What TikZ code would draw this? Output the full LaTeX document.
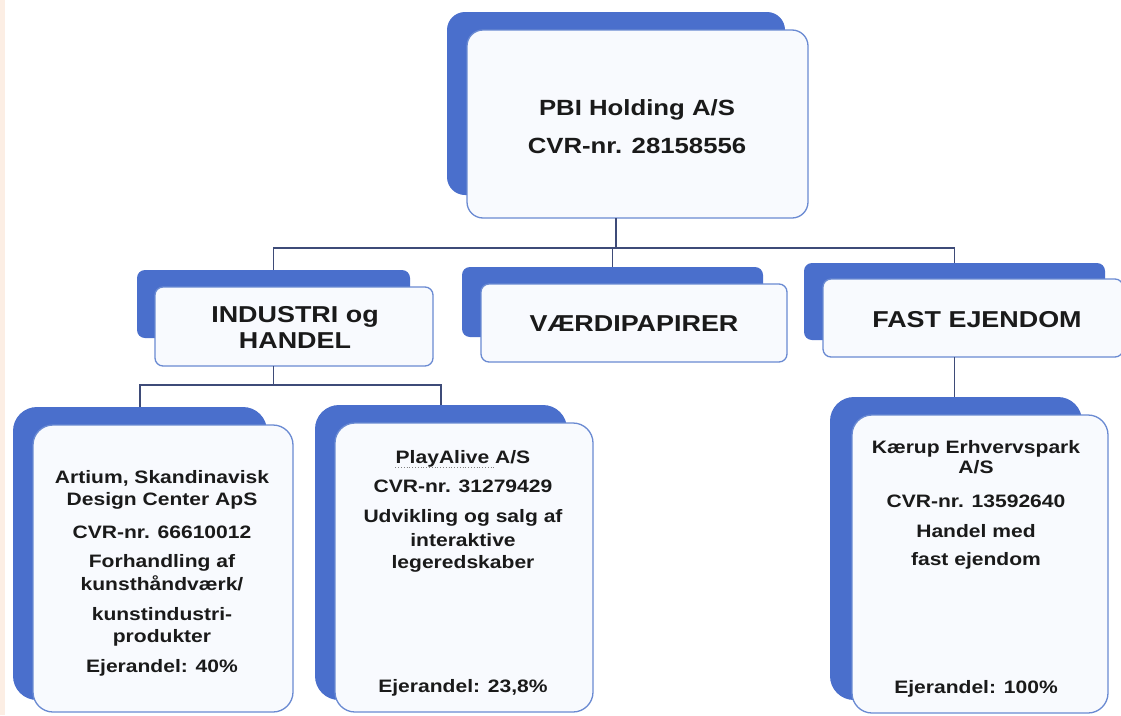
\documentclass[tikz,border=0pt]{standalone}
\usepackage{fontspec}
\setmainfont{Liberation Sans}[FakeStretch=1.17]
\definecolor{backblue}{HTML}{4A6FCC}
\definecolor{frontline}{HTML}{6A8AD2}
\definecolor{frontfill}{HTML}{F8FAFE}
\definecolor{connc}{HTML}{3E4B78}
\definecolor{txt}{HTML}{1A1A1A}
\definecolor{peach}{HTML}{FCEEE4}
\begin{document}
\begin{tikzpicture}[x=1pt,y=-1pt,
  backbox/.style={rectangle, fill=backblue, draw=none, inner sep=0pt, outer sep=0pt},
  frontbox/.style={rectangle, fill=frontfill, draw=frontline, line width=1.3pt, inner sep=0pt, outer sep=0pt},
  conn/.style={draw=connc, line width=1.3pt},
  bigtxt/.style={inner sep=0pt, anchor=base, text=txt, font=\bfseries\fontsize{22}{26}\selectfont},
  midtxt/.style={inner sep=0pt, anchor=base, text=txt, font=\bfseries\fontsize{23}{26}\selectfont},
  smalltxt/.style={inner sep=0pt, anchor=base, text=txt, font=\bfseries\fontsize{18}{22}\selectfont},
]
\useasboundingbox (0,0) rectangle (1121,715);
\fill[white] (0,0) rectangle (1121,715);
\fill[peach] (0,0) rectangle (5,715);

% top
\node[backbox, rounded corners=18pt, minimum width=338pt, minimum height=183pt] (topback) at (616,103.5) {};
\node[frontbox, rounded corners=16pt, minimum width=341pt, minimum height=188pt] (top) at (637.5,124) {};
% second level
\node[backbox, rounded corners=8pt, minimum width=273pt, minimum height=68pt] (indback) at (273.5,304) {};
\node[frontbox, rounded corners=8pt, minimum width=278pt, minimum height=79pt] (ind) at (294,326.5) {};
\node[backbox, rounded corners=8pt, minimum width=301pt, minimum height=70pt] (vaerback) at (612.5,302) {};
\node[frontbox, rounded corners=8pt, minimum width=306pt, minimum height=78pt] (vaer) at (634,323) {};
\node[backbox, rounded corners=8pt, minimum width=301pt, minimum height=77pt] (fastback) at (954.5,301.5) {};
\node[frontbox, rounded corners=8pt, minimum width=300pt, minimum height=78pt] (fast) at (973,318) {};
% third level
\node[backbox, rounded corners=24pt, minimum width=254pt, minimum height=293pt] (artback) at (140,553.5) {};
\node[frontbox, rounded corners=20pt, minimum width=260pt, minimum height=287pt] (art) at (163,568.5) {};
\node[backbox, rounded corners=24pt, minimum width=252pt, minimum height=295pt] (playback) at (441,552.5) {};
\node[frontbox, rounded corners=20pt, minimum width=258pt, minimum height=289pt] (play) at (464,567.5) {};
\node[backbox, rounded corners=24pt, minimum width=252pt, minimum height=303pt] (kaerback) at (956,548.5) {};
\node[frontbox, rounded corners=20pt, minimum width=256pt, minimum height=298pt] (kaer) at (980,564) {};

% connectors
\draw[conn] (topback |- top.south) -- ++(0,30) coordinate (j1);
\draw[conn] (indback.north) |- (j1) -| (fastback.north);
\draw[conn] (vaerback.north) -- (vaerback.north |- j1);
\draw[conn] (indback |- ind.south) -- ++(0,19) coordinate (j2);
\draw[conn] (artback.north) |- (j2) -| (playback.north);
\draw[conn] (fastback |- fast.south) -- (fastback |- kaerback.north);

% texts
\node[bigtxt] (t1) at (637,115) {PBI Holding A/S};
\node[bigtxt] (t2) at (637,153) {CVR-nr. 28158556};
\node[midtxt] (i1) at (295,322) {INDUSTRI og};
\node[midtxt] (i2) at (295,348) {HANDEL};
\node[midtxt] (v1) at (634,331) {VÆRDIPAPIRER};
\node[midtxt] (f1) at (977,327) {FAST EJENDOM};

\node[smalltxt] (a1) at (162,483) {Artium, Skandinavisk};
\node[smalltxt] (a2) at (162,505) {Design Center ApS};
\node[smalltxt] (a3) at (162,538) {CVR-nr. 66610012};
\node[smalltxt] (a4) at (162,567) {Forhandling af};
\node[smalltxt] (a5) at (162,590) {kunsthåndværk/};
\node[smalltxt] (a6) at (162,620) {kunstindustri-};
\node[smalltxt] (a7) at (162,642) {produkter};
\node[smalltxt] (a8) at (162,672) {Ejerandel: 40\%};

\node[smalltxt] (p1) at (463,463) {PlayAlive A/S};
\node[smalltxt] (p2) at (463,492) {CVR-nr. 31279429};
\node[smalltxt] (p3) at (463,522) {Udvikling og salg af};
\node[smalltxt] (p4) at (463,546) {interaktive};
\node[smalltxt] (p5) at (463,568) {legeredskaber};
\node[smalltxt] (p6) at (463,692) {Ejerandel: 23,8\%};
\draw[gray, dotted, line width=0.8pt] ([yshift=-4pt]p1.base west) -- ([yshift=-4pt,xshift=100pt]p1.base west);

\node[smalltxt] (k1) at (976,453) {Kærup Erhvervspark};
\node[smalltxt] (k2) at (976,473) {A/S};
\node[smalltxt] (k3) at (976,507) {CVR-nr. 13592640};
\node[smalltxt] (k4) at (976,537) {Handel med};
\node[smalltxt] (k5) at (976,565) {fast ejendom};
\node[smalltxt] (k6) at (976,693) {Ejerandel: 100\%};
\end{tikzpicture}
\end{document}
